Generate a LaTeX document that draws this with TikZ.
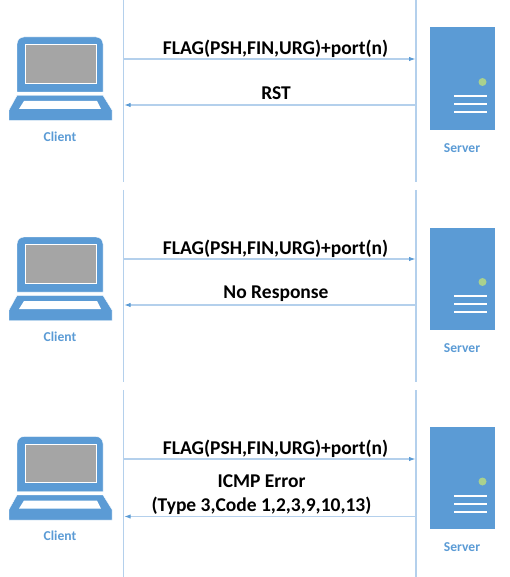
\documentclass[tikz,border=0pt]{standalone}
\usepackage{fontspec}
\setmainfont{Carlito}
\usetikzlibrary{arrows.meta}
\definecolor{iconblue}{HTML}{5B9BD5}
\definecolor{lineblue}{HTML}{B4D0EC}
\definecolor{screengray}{HTML}{A5A5A5}
\definecolor{ledgreen}{HTML}{A9D18E}
\tikzset{
  lifeline/.style={draw=lineblue,line width=1.1pt},
  msg/.style={draw=lineblue,line width=1.1pt,-{Latex[length=6.5pt,width=4.5pt,color=iconblue]}},
  msgtext/.style={font=\bfseries\fontsize{19.5}{23}\selectfont,text=black,inner sep=0pt,align=center},
  iconlabel/.style={font=\bfseries\fontsize{13.6}{16}\selectfont,text=iconblue,inner sep=0pt},
  iconfill/.style={fill=iconblue,draw=white,line width=.4pt},
}
\begin{document}
\begin{tikzpicture}[x=1pt,y=-1pt]
\useasboundingbox (0,0) rectangle (509,577);
% panel: offset / top / bottom / send y / reply y / index
\foreach \o/\t/\b/\s/\r/\i in {0/0/182/59/105/a,200/190/382/259/305/b,399.5/390/577/459/516.5/c}{
  \begin{scope}[yshift=-\o pt]
    % laptop
    \path[iconfill] (17,92) [rounded corners=7pt] -- (17,37) -- (103,37) [sharp corners] -- (103,92) -- cycle;
    \path[fill=screengray,draw=white,line width=.4pt] (25,44.5) rectangle (96,83);
    \path[iconfill] (17,95.5) -- (103,95.5) -- (112,110) -- (112,120.5) -- (9,120.5) -- (9,110) -- cycle;
    \path[fill=white] (24,101) -- (97,101) -- (101,109) -- (19,109) -- cycle;
    \node[iconlabel] (client\i) at (60,136.5) {Client};
    % server
    \path[iconfill] (429.5,26.7) rectangle (495,130);
    \path[fill=ledgreen] (482.5,82) circle[radius=4];
    \foreach \ly in {96,104,112}{\path[draw=white,line width=2pt] (454,\ly) -- (487,\ly);}
    \node[iconlabel] (server\i) at (462,148) {Server};
  \end{scope}
  \coordinate (lt\i) at (123.7,\t);
  \coordinate (lb\i) at (123.7,\b);
  \coordinate (rt\i) at (416,\t);
  \coordinate (rb\i) at (416,\b);
  \coordinate (ls\i) at (123.7,\s);
  \coordinate (rs\i) at (415.5,\s);
  \coordinate (lr\i) at (124.2,\r);
  \coordinate (rr\i) at (416,\r);
  \draw[lifeline] (lt\i) -- (lb\i);
  \draw[lifeline] (rt\i) -- (rb\i);
  \draw[msg] (ls\i) -- (rs\i);
  \draw[msg] (rr\i) -- (lr\i);
  \node[msgtext] (flag\i) at (275.5,\s-10.5) {FLAG(PSH,FIN,URG)+port(n)};
}
\node[msgtext] (rst) at (276,93.5) {RST};
\node[msgtext] (none) at (276,294) {No Response};
\node[msgtext] (icmp) at (261.5,481.5) {ICMP Error};
\node[msgtext] (type) at (261.5,505.5) {(Type 3,Code 1,2,3,9,10,13)};
\end{tikzpicture}
\end{document}
